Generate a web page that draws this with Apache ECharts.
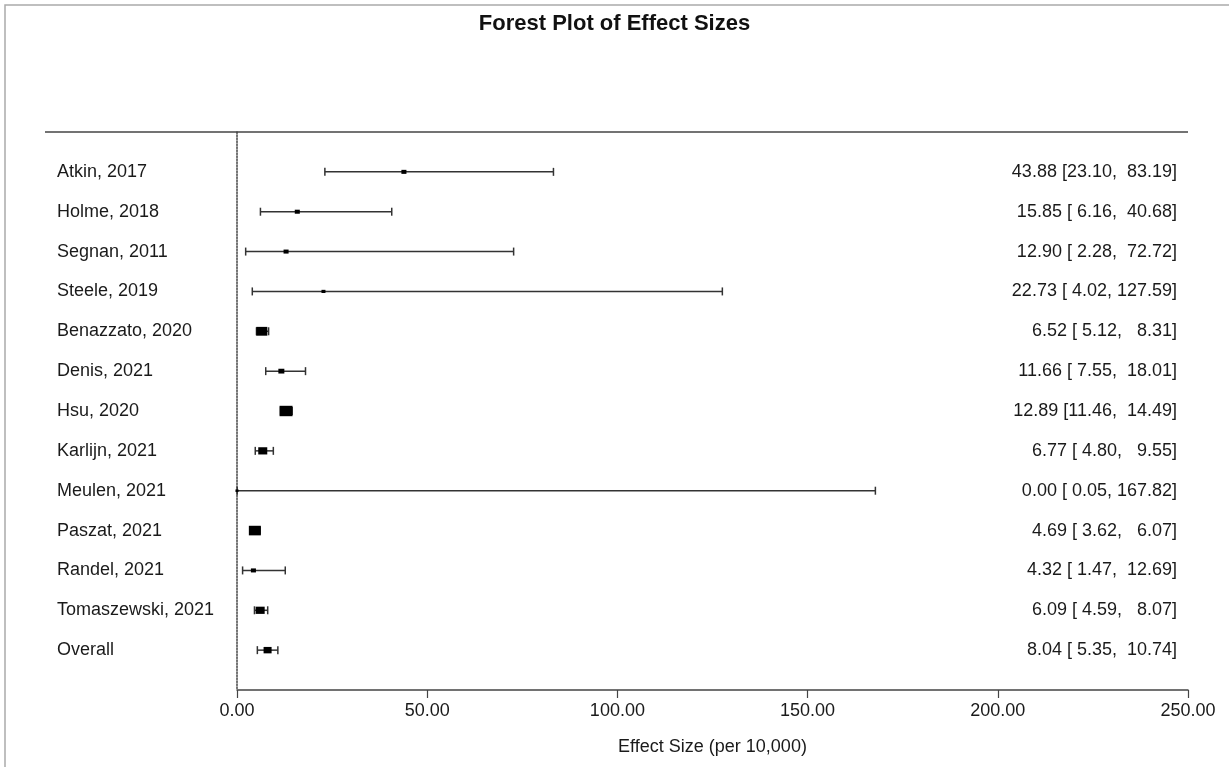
<!DOCTYPE html>
<html>
<head>
<meta charset="utf-8">
<script src="https://cdn.jsdelivr.net/npm/echarts@6/dist/echarts.min.js"></script>
<style>
html,body{margin:0;padding:0;background:#fff;}
#chart{width:1229px;height:767px;}
</style>
</head>
<body>
<div id="chart"></div>
<script>
// ---- data ----
const studies = ["Atkin, 2017","Holme, 2018","Segnan, 2011","Steele, 2019","Benazzato, 2020","Denis, 2021","Hsu, 2020","Karlijn, 2021","Meulen, 2021","Paszat, 2021","Randel, 2021","Tomaszewski, 2021","Overall"];
const estimates = [43.88,15.85,12.90,22.73,6.52,11.66,12.89,6.77,0.00,4.69,4.32,6.09,8.04];
const lower = [23.10,6.16,2.28,4.02,5.12,7.55,11.46,4.80,0.05,3.62,1.47,4.59,5.35];
const upper = [83.19,40.68,72.72,127.59,8.31,18.01,14.49,9.55,167.82,6.07,12.69,8.07,10.74];
// relative weights (marker area)
const weights = [2.4,2.4,2.4,1.5,11.5,3.4,16,7.7,0.9,13.6,2.4,7.7,6.1];
const xTicks = [0,50,100,150,200,250];
const title = "Forest Plot of Effect Sizes";
const xTitle = "Effect Size (per 10,000)";

// ---- derived ----
const ciText = estimates.map((e,i)=> e.toFixed(2) + " [" + lower[i].toFixed(2).padStart(5," ") + ", " + upper[i].toFixed(2).padStart(6," ") + "]");
const errData = studies.map((s,i)=>[lower[i], upper[i], i]);
const ptData = studies.map((s,i)=>{
  const w = 3.25*Math.sqrt(weights[i]);
  return {value:[estimates[i], i], symbolSize:[w, w*0.8]};
});

const FONT = "'Liberation Sans', Arial, sans-serif";
const TXT = '#1a1a1a';
const chart = echarts.init(document.getElementById('chart'));
chart.setOption({
  animation:false,
  backgroundColor:'#fff',
  title:{text:title, left:'center', top:8, textStyle:{fontFamily:FONT, fontWeight:'bold', fontSize:22, color:'#111'}},
  grid:{left:237, right:41, top:132, bottom:77},
  xAxis:{
    type:'value', min:xTicks[0], max:xTicks[xTicks.length-1], interval:50,
    axisLine:{show:true, onZero:false, lineStyle:{color:'#444', width:1.5}},
    axisTick:{show:true, length:8, lineStyle:{color:'#444', width:1.2}},
    axisLabel:{formatter:v=>v.toFixed(2), fontFamily:FONT, fontSize:18, color:TXT, margin:12},
    splitLine:{show:false},
    name:xTitle, nameLocation:'middle', nameGap:48,
    nameTextStyle:{fontFamily:FONT, fontSize:18, color:TXT}
  },
  yAxis:[{
    type:'value', min:-1, max:13, interval:1, inverse:true,
    axisLine:{show:true, onZero:false, lineStyle:{color:'#444', type:'dotted', width:1.5}},
    axisTick:{show:false}, splitLine:{show:false},
    axisLabel:{formatter:v=> studies[v] || '', align:'left', margin:180, fontFamily:FONT, fontSize:18, color:TXT}
  },{
    type:'value', min:-1, max:13, interval:1, inverse:true, position:'right',
    axisLine:{show:false, onZero:false}, axisTick:{show:false}, splitLine:{show:false},
    axisLabel:{inside:true, formatter:v=> ciText[v] || '', align:'right', margin:11, fontFamily:FONT, fontSize:18, color:TXT}
  }],
  graphic:[
    {type:'polyline', shape:{points:[[5,767],[5,5],[1229,5]]}, style:{stroke:'#aaa', lineWidth:1.5, fill:null}, silent:true},
    {type:'line', shape:{x1:45, y1:132, x2:1188, y2:132}, style:{stroke:'#444', lineWidth:1.5}, silent:true}
  ],
  series:[
    {
      type:'custom', yAxisIndex:0, data:errData, encode:{x:[0,1], y:2},
      renderItem:function(params, api){
        const y = api.value(2);
        const a = api.coord([api.value(0), y]);
        const b = api.coord([api.value(1), y]);
        const h = 4;
        const st = {stroke:'#333', lineWidth:1.5};
        return {type:'group', children:[
          {type:'line', shape:{x1:a[0], y1:a[1], x2:b[0], y2:b[1]}, style:st},
          {type:'line', shape:{x1:a[0], y1:a[1]-h, x2:a[0], y2:a[1]+h}, style:st},
          {type:'line', shape:{x1:b[0], y1:b[1]-h, x2:b[0], y2:b[1]+h}, style:st}
        ]};
      },
      z:2
    },
    {
      type:'scatter', yAxisIndex:0, data:ptData, symbol:'rect',
      itemStyle:{color:'#000', opacity:1, borderWidth:0}, z:5
    }
  ]
});
</script>
</body>
</html>
